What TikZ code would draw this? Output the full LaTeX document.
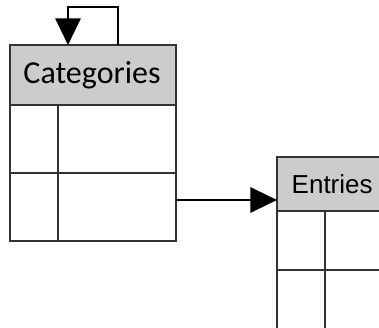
\documentclass[tikz,border=0pt]{standalone}
\usepackage{fontspec}
\newfontfamily\calib{Carlito}
\newfontfamily\arial{Liberation Sans}
\usetikzlibrary{arrows.meta}
\begin{document}
\begin{tikzpicture}[x=0.75pt,y=-0.75pt,
  line/.style={draw=black!80,line width=1.3pt},
  hdr/.style={line,fill=black!20},
  conn/.style={draw=black,line width=1.6pt,-{Triangle[length=20pt,width=19pt]}}]
\useasboundingbox (0,0) rectangle (379,328);
\clip (0,0) rectangle (379,328);
% Categories table
\path[hdr] (10,45) rectangle (176,105);
\node[font=\calib\fontsize{24}{28}\selectfont,anchor=center] (cath) at (92,75) {Categories};
\path[line] (10,105) rectangle (176,241);
\draw[line] (10,173) -- (176,173);
\draw[line] (58,105) -- (58,241);
\coordinate (cattop) at (118,45);
\coordinate (catin) at (68,45);
\coordinate (catright) at (176,200);
% Entries table
\path[hdr] (277,157) rectangle (400,211);
\node[font=\arial\fontsize{19.5}{23}\selectfont,anchor=west] (enth) at (287,184) {Entries};
\path[line] (277,211) rectangle (400,340);
\draw[line] (277,270) -- (400,270);
\draw[line] (325,211) -- (325,340);
\coordinate (entleft) at (277,200);
% connectors
\draw[conn] (cattop) -- (118,7) -- (68,7) -- (catin);
\draw[conn] (catright) -- (entleft);
\end{tikzpicture}
\end{document}
